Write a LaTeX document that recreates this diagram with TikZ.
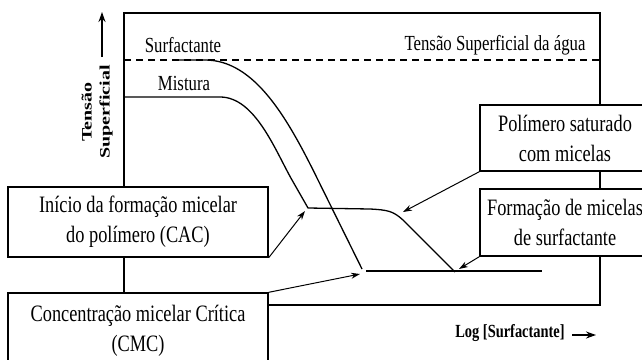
\documentclass[tikz,border=0pt]{standalone}
\usepackage{fontspec}
\setmainfont{Liberation Serif}[FakeStretch=0.78]
\newfontfamily\uprightserif{Liberation Serif}
\usetikzlibrary{arrows.meta}

\begin{document}
\begin{tikzpicture}[x=1pt, y=-1pt,
  infobox/.style={draw, line width=1.4pt, fill=white, inner sep=0pt, align=center,
    minimum width=260pt, minimum height=70pt, font=\fontsize{23.5}{30}\selectfont},
  pointer/.style={line width=1pt, -{Stealth[length=9pt, width=6pt]}},
  curve/.style={line width=1.3pt},
  lbl/.style={font=\fontsize{21.5}{26}\selectfont, inner sep=0pt}]
\useasboundingbox (0,0) rectangle (642,359);
\clip (0,0) rectangle (642,359);
% frame and water line
\draw[line width=1.6pt] (124,13) rectangle (600,305);
\draw[line width=1.4pt, dash pattern=on 7pt off 5pt] (124,60) -- (600,60);
\node[lbl] (surf) at (183,45) {Surfactante};
\node[lbl] (mist) at (184,83) {Mistura};
\node[lbl, anchor=base] (agua) at (495,50) {Tensão Superficial da água};
% curves
\draw[curve] (175,60) -- (205,60) .. controls (255,60) and (288,119) .. (318,180) -- (362,269);
\draw[curve] (124,97) -- (220,97) .. controls (255,97) and (275,150) .. (292,180) -- (308,208)
  -- (370,209) .. controls (388,210) and (393,211) .. (403,220) -- (455,272);
\draw[curve] (366,271) -- (542,271);
\coordinate (cac) at (305,211);
\coordinate (cmc) at (360,274);
\coordinate (sat) at (403,212);
\coordinate (mic) at (459,269);
% boxes
\node[infobox] (cacbox) at (138,222) {Início da formação micelar\\do polímero (CAC)};
\node[infobox, minimum height=76pt] (cmcbox) at (138,331) {Concentração micelar Crítica\\(CMC)};
\node[infobox, minimum width=170pt, minimum height=66pt] (polbox) at (565,138) {Polímero saturado\\com micelas};
\node[infobox, minimum width=170pt, minimum height=67pt] (formbox) at (565,222.5) {Formação de micelas\\de surfactante};
\draw[pointer] (cacbox.south east) -- (cac);
\draw[pointer] (cmcbox.north east) -- (cmc);
\draw[pointer] (polbox.south west) -- (sat);
\draw[pointer] (formbox.south west) -- (mic);
% axes
\node[rotate=90, inner sep=0pt] (ylab) at (97,112)
  {\scalebox{1}[0.72]{\uprightserif\bfseries\fontsize{20}{25}\selectfont\begin{tabular}{@{}c@{}}Tensão\\Superficial\end{tabular}}};
\coordinate (ytail) at (102,57);
\coordinate (yhead) at (102,12);
\draw[line width=1.8pt, -{Stealth[length=10pt, width=7pt]}] (ytail) -- (yhead);
\node[font=\bfseries\fontsize{18.5}{22}\selectfont, inner sep=0pt] (xlab) at (510,333) {Log [Surfactante]};
\coordinate (xtail) at (572,335);
\coordinate (xhead) at (596,335);
\draw[line width=1.8pt, -{Stealth[length=10pt, width=7pt]}] (xtail) -- (xhead);
\end{tikzpicture}
\end{document}
